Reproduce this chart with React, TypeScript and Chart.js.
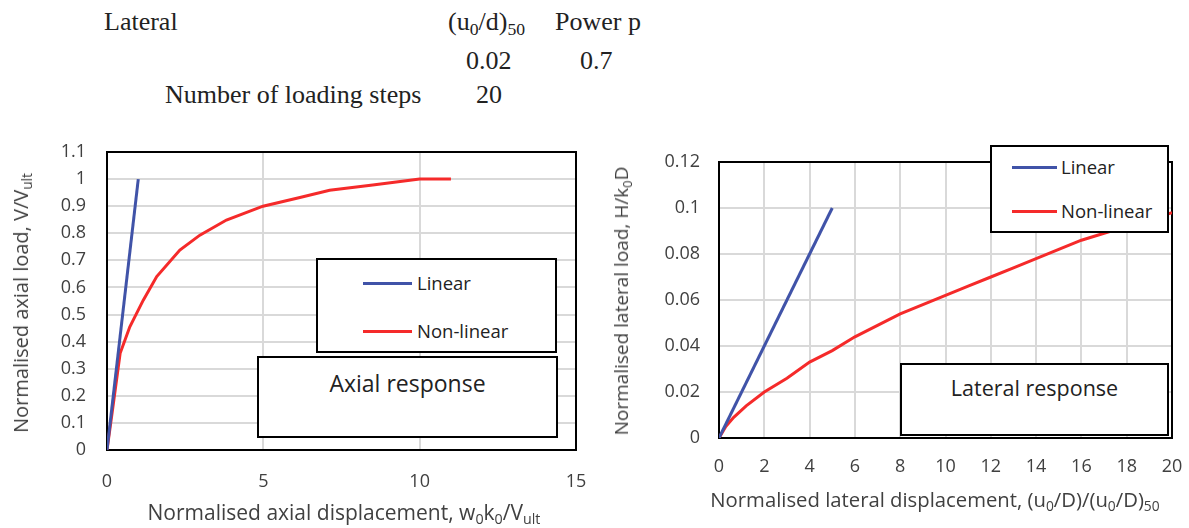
import React, { useEffect, useRef } from "react";
import { Chart, registerables } from "chart.js";

Chart.register(...registerables);

// ---------- data ----------
const seriesLabels = ["Linear", "Non-linear"];

const axialLinearX = [0, 1];
const axialLinearY = [0, 1];
const axialNonLinearX = [0, 0.12, 0.22, 0.42, 0.73, 1.16, 1.59, 2.33, 2.97, 3.82, 4.99, 6.17, 7.12, 8.5, 10, 11];
const axialNonLinearY = [0, 0.1, 0.185, 0.357, 0.455, 0.553, 0.64, 0.738, 0.793, 0.849, 0.9, 0.932, 0.959, 0.978, 1.0, 1.0];

const lateralLinearX = [0, 5];
const lateralLinearY = [0, 0.1];
const lateralNonLinearX = [0, 0.3, 0.65, 1.2, 2, 3, 4, 5, 6, 7, 8, 9, 10, 11, 12, 13, 14, 15, 16, 17, 18, 19, 20];
const lateralNonLinearY = [0, 0.005, 0.009, 0.014, 0.02, 0.026, 0.033, 0.038, 0.044, 0.049, 0.054, 0.058, 0.062, 0.066, 0.07, 0.074, 0.078, 0.082, 0.086, 0.089, 0.092, 0.095, 0.098];

const axialXTicks = [0, 5, 10, 15];
const axialYTicks = [0, 0.1, 0.2, 0.3, 0.4, 0.5, 0.6, 0.7, 0.8, 0.9, 1, 1.1];
const lateralXTicks = [0, 2, 4, 6, 8, 10, 12, 14, 16, 18, 20];
const lateralYTicks = [0, 0.02, 0.04, 0.06, 0.08, 0.1, 0.12];

// ---------- styles ----------
const BLUE = "#4053A8";
const RED = "#F52A2A";
const SANS = "'Open Sans', 'Noto Sans', sans-serif";
const SERIF = "'Liberation Serif', 'DejaVu Serif', serif";
const TICK_COLOR = "#404040";

const toPoints = (xs: number[], ys: number[]) => xs.map((x, i) => ({ x, y: ys[i] }));
const fmt = (v: number) => String(Number(Number(v).toFixed(4)));

const framePlugin = {
  id: "frame",
  beforeDatasetsDraw(chart: any) {
    const { ctx, chartArea } = chart;
    ctx.save();
    ctx.strokeStyle = "#000";
    ctx.lineWidth = 2;
    ctx.strokeRect(chartArea.left, chartArea.top, chartArea.right - chartArea.left, chartArea.bottom - chartArea.top);
    ctx.restore();
  },
};

const noScalePadding = (scale: any) => {
  scale.paddingTop = 0;
  scale.paddingBottom = 0;
  scale.paddingLeft = 0;
  scale.paddingRight = 0;
};

type ChartProps = {
  left: number;
  top: number;
  width: number;
  height: number;
  padTop: number;
  padRight: number;
  yWidth: number;
  xHeight: number;
  xPad: number;
  yPad: number;
  xTicks: number[];
  yTicks: number[];
  linear: { x: number; y: number }[];
  nonLinear: { x: number; y: number }[];
};

function ResponseChart(p: ChartProps) {
  const ref = useRef<HTMLCanvasElement | null>(null);
  useEffect(() => {
    if (!ref.current) return;
    const chart = new Chart(ref.current, {
      type: "scatter",
      data: {
        datasets: [
          {
            label: seriesLabels[0],
            data: p.linear,
            showLine: true,
            borderColor: BLUE,
            backgroundColor: BLUE,
            borderWidth: 3,
            pointRadius: 0,
            tension: 0,
          },
          {
            label: seriesLabels[1],
            data: p.nonLinear,
            showLine: true,
            borderColor: RED,
            backgroundColor: RED,
            borderWidth: 3,
            pointRadius: 0,
            tension: 0,
          },
        ],
      },
      options: {
        animation: false,
        responsive: false,
        maintainAspectRatio: false,
        layout: { padding: { top: p.padTop, right: p.padRight, left: 0, bottom: 0 } },
        plugins: { legend: { display: false }, tooltip: { enabled: false } },
        scales: {
          x: {
            type: "linear",
            min: p.xTicks[0],
            max: p.xTicks[p.xTicks.length - 1],
            afterBuildTicks: (axis: any) => {
              axis.ticks = p.xTicks.map((v) => ({ value: v }));
            },
            afterFit: (scale: any) => {
              scale.height = p.xHeight;
              noScalePadding(scale);
            },
            grid: { color: "#D9D9D9", lineWidth: 2, drawTicks: false },
            border: { display: false },
            ticks: {
              autoSkip: false,
              maxRotation: 0,
              padding: p.xPad,
              color: TICK_COLOR,
              font: { family: SANS, size: 18 },
              callback: (v: any) => fmt(v),
            },
          },
          y: {
            type: "linear",
            min: p.yTicks[0],
            max: p.yTicks[p.yTicks.length - 1],
            afterBuildTicks: (axis: any) => {
              axis.ticks = p.yTicks.map((v) => ({ value: v }));
            },
            afterFit: (scale: any) => {
              scale.width = p.yWidth;
              noScalePadding(scale);
            },
            grid: { color: "#D9D9D9", lineWidth: 2, drawTicks: false },
            border: { display: false },
            ticks: {
              autoSkip: false,
              padding: p.yPad,
              color: TICK_COLOR,
              font: { family: SANS, size: 18 },
              callback: (v: any) => fmt(v),
            },
          },
        },
      } as any,
      plugins: [framePlugin],
    });
    return () => chart.destroy();
  }, []);
  return (
    <canvas
      ref={ref}
      width={p.width}
      height={p.height}
      style={{ position: "absolute", left: p.left, top: p.top, width: p.width, height: p.height }}
    />
  );
}

const Sub = ({ children }: { children: React.ReactNode }) => (
  <span style={{ fontSize: "0.68em", position: "relative", top: "0.28em" }}>{children}</span>
);

function LegendBox(props: {
  left: number;
  top: number;
  width: number;
  height: number;
  rowY: number[];
  lineLeft: number;
  lineWidth: number;
  textLeft: number;
}) {
  const colors = [BLUE, RED];
  return (
    <div
      style={{
        position: "absolute",
        left: props.left,
        top: props.top,
        width: props.width,
        height: props.height,
        boxSizing: "border-box",
        border: "2px solid #000",
        background: "#fff",
      }}
    >
      {seriesLabels.map((label, i) => (
        <React.Fragment key={label}>
          <div
            style={{
              position: "absolute",
              left: props.lineLeft - 2,
              top: props.rowY[i] - 2 - 1.5,
              width: props.lineWidth,
              height: 3,
              background: colors[i],
            }}
          />
          <div
            style={{
              position: "absolute",
              left: props.textLeft - 2,
              top: props.rowY[i] - 2,
              transform: "translateY(-50%)",
              font: `18.5px ${SANS}`,
              lineHeight: "22px",
              color: "#222",
              whiteSpace: "nowrap",
            }}
          >
            {label}
          </div>
        </React.Fragment>
      ))}
    </div>
  );
}

function TitleBox(props: {
  left: number;
  top: number;
  width: number;
  height: number;
  textY: number;
  size: number;
  text: string;
}) {
  return (
    <div
      style={{
        position: "absolute",
        left: props.left,
        top: props.top,
        width: props.width,
        height: props.height,
        boxSizing: "border-box",
        border: "2px solid #000",
        background: "#fff",
      }}
    >
      <div
        style={{
          position: "absolute",
          left: 0,
          right: 0,
          top: props.textY - 2,
          transform: "translateY(-50%)",
          textAlign: "center",
          font: `${props.size}px ${SANS}`,
          lineHeight: "28px",
          color: "#222",
          whiteSpace: "nowrap",
        }}
      >
        {props.text}
      </div>
    </div>
  );
}

const serifText = (left: number, top: number, content: React.ReactNode) => (
  <div
    style={{
      position: "absolute",
      left,
      top,
      font: `26px ${SERIF}`,
      lineHeight: "26px",
      color: "#222",
      whiteSpace: "nowrap",
    }}
  >
    {content}
  </div>
);

const axisTitleStyle = (x: number, y: number, rotate: boolean, size: number): React.CSSProperties => ({
  position: "absolute",
  left: x,
  top: y,
  transform: rotate ? "translate(-50%,-50%) rotate(-90deg)" : "translate(-50%,-50%)",
  font: `${size}px ${SANS}`,
  lineHeight: "26px",
  color: TICK_COLOR,
  whiteSpace: "nowrap",
});

export default function App() {
  return (
    <div
      style={{
        position: "fixed",
        left: 0,
        top: 0,
        width: 1189,
        height: 528,
        background: "#fff",
        overflow: "hidden",
      }}
    >
      {serifText(104, 9, "Lateral")}
      {serifText(448, 9, <>(u<Sub>0</Sub>/d)<Sub>50</Sub></>)}
      {serifText(555, 9, "Power p")}
      {serifText(466, 48, "0.02")}
      {serifText(580, 48, "0.7")}
      {serifText(165, 82, "Number of loading steps")}
      {serifText(476, 82, "20")}

      <ResponseChart
        left={0}
        top={140}
        width={600}
        height={388}
        padTop={12}
        padRight={24}
        yWidth={107}
        xHeight={78}
        xPad={21}
        yPad={21}
        xTicks={axialXTicks}
        yTicks={axialYTicks}
        linear={toPoints(axialLinearX, axialLinearY)}
        nonLinear={toPoints(axialNonLinearX, axialNonLinearY)}
      />
      <ResponseChart
        left={600}
        top={140}
        width={589}
        height={388}
        padTop={22}
        padRight={17}
        yWidth={119}
        xHeight={90}
        xPad={18}
        yPad={19}
        xTicks={lateralXTicks}
        yTicks={lateralYTicks}
        linear={toPoints(lateralLinearX, lateralLinearY)}
        nonLinear={toPoints(lateralNonLinearX, lateralNonLinearY)}
      />

      <div style={axisTitleStyle(22, 303, true, 20)}>
        Normalised axial load, V/V<Sub>ult</Sub>
      </div>
      <div style={axisTitleStyle(344, 513, false, 21)}>
        Normalised axial displacement, w<Sub>0</Sub>k<Sub>0</Sub>/V<Sub>ult</Sub>
      </div>
      <div style={axisTitleStyle(622, 301, true, 19)}>
        Normalised lateral load, H/k<Sub>0</Sub>D
      </div>
      <div style={axisTitleStyle(935, 500, false, 20.3)}>
        Normalised lateral displacement, (u<Sub>0</Sub>/D)/(u<Sub>0</Sub>/D)<Sub>50</Sub>
      </div>

      <LegendBox left={316} top={258} width={241} height={95} rowY={[25, 73]} lineLeft={47} lineWidth={49} textLeft={101} />
      <TitleBox left={257} top={356} width={301} height={82} textY={27} size={23} text="Axial response" />

      <LegendBox left={990} top={145} width={179} height={88} rowY={[22, 66]} lineLeft={22} lineWidth={45} textLeft={71} />
      <TitleBox left={900} top={363} width={269} height={73} textY={25} size={21.5} text="Lateral response" />
    </div>
  );
}
